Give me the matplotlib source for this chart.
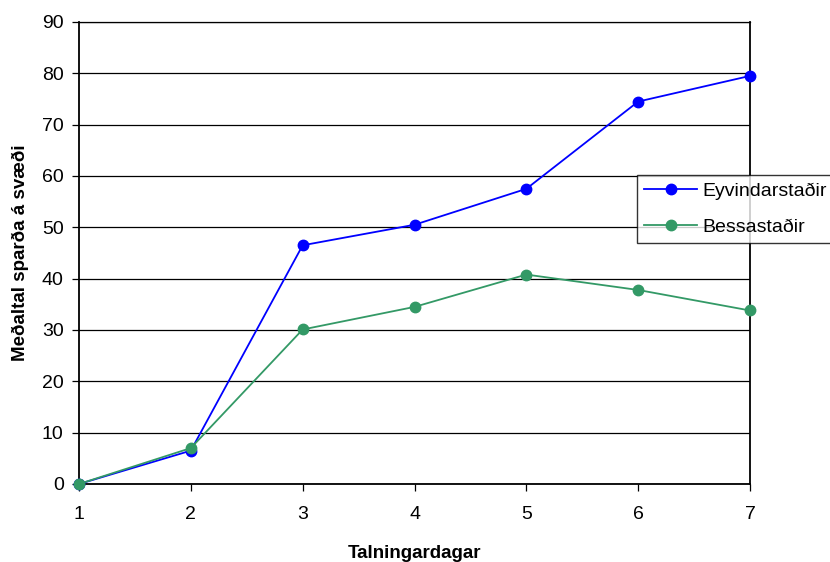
import matplotlib
matplotlib.use("Agg")
import matplotlib.pyplot as plt

days = [1, 2, 3, 4, 5, 6, 7]
eyvindarstadir = [0, 6.5, 46.5, 50.5, 57.5, 74.5, 79.5]
bessastadir = [0, 7.0, 30.1, 34.5, 40.8, 37.8, 33.8]
yticks = [0, 10, 20, 30, 40, 50, 60, 70, 80, 90]

plt.rcParams['font.family'] = ['Liberation Sans', 'DejaVu Sans']

fig = plt.figure(figsize=(8.3, 5.62), dpi=100)
ax = fig.add_axes([79/830, 1 - 484/562, (750 - 79)/830, (484 - 22)/562])

ax.plot(days, eyvindarstadir, color='#0000FF', lw=1.3, marker='o', ms=7.5,
        label='Eyvindarstaðir', zorder=3, clip_on=False)
ax.plot(days, bessastadir, color='#339966', lw=1.3, marker='o', ms=7.5,
        label='Bessastaðir', zorder=4, clip_on=False)

ax.set_xlim(1, 7)
ax.set_ylim(0, 90)
ax.set_xticks(days)
ax.set_yticks(yticks)
ax.yaxis.grid(True, color='black', lw=0.9)
ax.set_axisbelow(True)
for s in ['left', 'right', 'bottom', 'top']:
    ax.spines[s].set_color('black')
ax.spines['left'].set_linewidth(1.3)
ax.spines['right'].set_linewidth(1.3)
ax.spines['bottom'].set_linewidth(1.3)
ax.spines['top'].set_linewidth(0.9)
ax.tick_params(axis='both', direction='out', length=5, width=0.9, labelsize=14)
ax.tick_params(axis='y', pad=6)
ax.tick_params(axis='x', pad=11)

ax.set_xlabel('Talningardagar', fontsize=13.5, fontweight='bold', labelpad=16)
ax.set_ylabel('Meðaltal sparða á svæði', fontsize=13.5, fontweight='bold', labelpad=9)

leg = ax.legend(loc='upper left', bbox_to_anchor=(637/830, 1 - 175/562), bbox_transform=fig.transFigure,
                fontsize=14, frameon=True, fancybox=False, edgecolor='black',
                borderpad=0.38, labelspacing=0.95, handlelength=2.7, handletextpad=0.26,
                borderaxespad=0)
leg.get_frame().set_linewidth(1.0)

fig.savefig('out.png', dpi=100)
